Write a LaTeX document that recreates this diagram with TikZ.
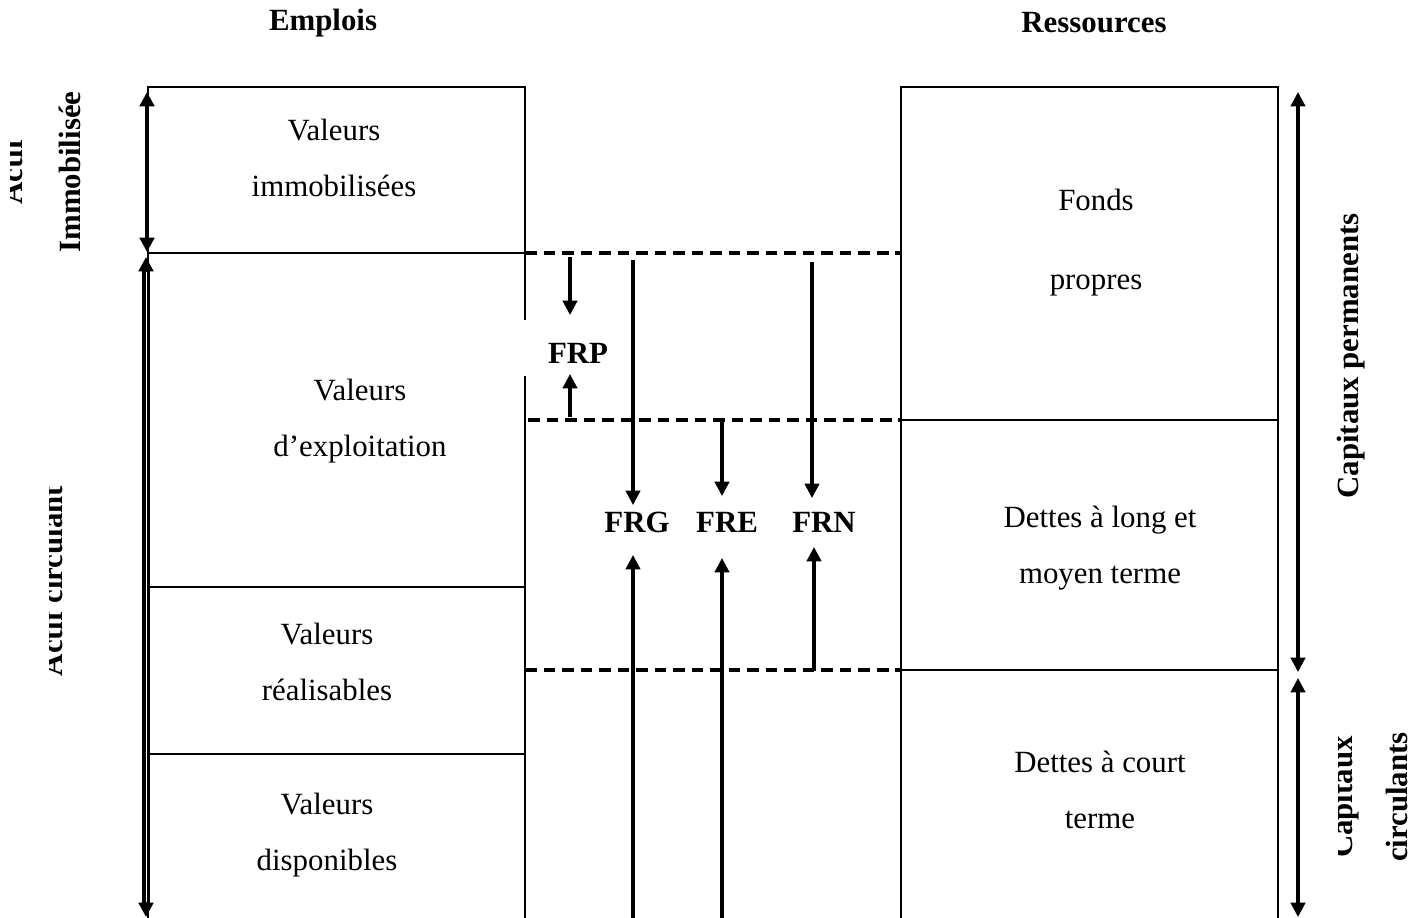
\documentclass[tikz,border=0pt]{standalone}
\usepackage{fontspec}
\setmainfont{Liberation Serif}
\usetikzlibrary{arrows.meta}
\begin{document}
\begin{tikzpicture}[x=0.389pt,y=-0.389pt,
  box/.style={line width=0.8pt},
  lbl/.style={font=\fontsize{12}{21.8}\selectfont, align=center, inner sep=0pt},
  blbl/.style={font=\fontsize{12}{21.8}\selectfont\bfseries, align=center, inner sep=0pt},
  dashline/.style={line width=1.2pt, dash pattern=on 4.6pt off 2.6pt},
  arr/.style={line width=1.2pt, -{Triangle[length=5.6pt,width=5.6pt]}},
  darr/.style={line width=1.2pt, {Triangle[length=5.6pt,width=5.6pt]}-{Triangle[length=5.6pt,width=5.6pt]}},
]
\useasboundingbox (0,0) rectangle (1427,917);

% headings
\node[blbl] (emplois) at (323,23) {Emplois};
\node[blbl] (ressources) at (1094,23) {Ressources};

% left boxes (Emplois)
\draw[box] (148,925) -- (148,87) -- (525,87) -- (525,320);
\draw[box] (525,376) -- (525,925);
\draw[box] (148,253) -- (525,253);
\draw[box] (148,587) -- (525,587);
\draw[box] (148,754) -- (525,754);

% right boxes (Ressources)
\draw[box] (901,925) -- (901,87) -- (1278,87) -- (1278,925);
\draw[box] (901,420) -- (1278,420);
\draw[box] (901,670) -- (1278,670);

% dashed levels
\draw[dashline] (525,253) -- (901,253);
\draw[dashline] (528,420) -- (901,420);
\draw[dashline] (525,670) -- (901,670);

% box texts
\node[lbl] (vi) at (334,158) {Valeurs\\immobilisées};
\node[lbl] (ve) at (360,421) {Valeurs\\d’exploitation};
\node[lbl] (vr) at (327,662) {Valeurs\\réalisables};
\node[lbl] (vd) at (327,835) {Valeurs\\disponibles};
\node[lbl] (fp) at (1096,243) {Fonds\\[8.9pt]propres};
\node[lbl] (dl) at (1100,548) {Dettes à long et\\moyen terme};
\node[lbl] (dc) at (1100,790) {Dettes à court\\terme};

% FR labels
\node[blbl] (frp) at (578,353) {FRP};
\node[blbl] (frg) at (637,522) {FRG};
\node[blbl] (fre) at (727,522) {FRE};
\node[blbl] (frn) at (824,522) {FRN};

% arrow coordinates
\coordinate (frpA) at (570,257);  \coordinate (frpAt) at (570,315);
\coordinate (frpB) at (570,417);  \coordinate (frpBt) at (570,374);
\coordinate (frgA) at (633,260);  \coordinate (frgAt) at (633,505);
\coordinate (frgB) at (633,925);  \coordinate (frgBt) at (633,555);
\coordinate (freA) at (722,421);  \coordinate (freAt) at (722,496);
\coordinate (freB) at (722,925);  \coordinate (freBt) at (722,558);
\coordinate (frnA) at (812,262);  \coordinate (frnAt) at (812,498);
\coordinate (frnB) at (814,671);  \coordinate (frnBt) at (814,547);

\draw[arr] (frpA) -- (frpAt);
\draw[arr] (frpB) -- (frpBt);
\draw[arr] (frgA) -- (frgAt);
\draw[arr] (frgB) -- (frgBt);
\draw[arr] (freA) -- (freAt);
\draw[arr] (freB) -- (freBt);
\draw[arr] (frnA) -- (frnAt);
\draw[arr] (frnB) -- (frnBt);

% left span arrows
\coordinate (lA) at (147,92);   \coordinate (lB) at (147,252);
\coordinate (lC) at (146,257);  \coordinate (lD) at (146,917);
\draw[darr, line width=1.5pt] (lA) -- (lB);
\draw[darr, line width=2.8pt] (lC) -- (lD);
\draw[white, line width=0.35pt, shorten <=6pt, shorten >=6pt] (lC) -- (lD);

% right span arrows
\coordinate (rA) at (1298,92);  \coordinate (rB) at (1298,672);
\coordinate (rC) at (1298,678); \coordinate (rD) at (1298,917);
\draw[darr] (rA) -- (rB);
\draw[darr] (rC) -- (rD);

% rotated side labels (partly clipped as in the reference)
\begin{scope}
  \clip (10,80) rectangle (140,260);
  \node[blbl, font=\fontsize{12}{22.5}\selectfont\bfseries, rotate=90] (actimm) at (40.5,172) {Actif\\Immobilisée};
\end{scope}
\begin{scope}
  \clip (49,400) rectangle (140,760);
  \node[blbl, rotate=90, anchor=base] (actcirc) at (62,581) {Actif circulant};
\end{scope}
\node[blbl, rotate=90, anchor=base] (cperm) at (1358,356) {Capitaux permanents};
\begin{scope}
  \clip (1338,700) rectangle (1427,917);
  \node[blbl, font=\fontsize{12}{21.4}\selectfont\bfseries, rotate=90] (ccirc) at (1369,797) {Capitaux\\circulants};
\end{scope}
\end{tikzpicture}
\end{document}
